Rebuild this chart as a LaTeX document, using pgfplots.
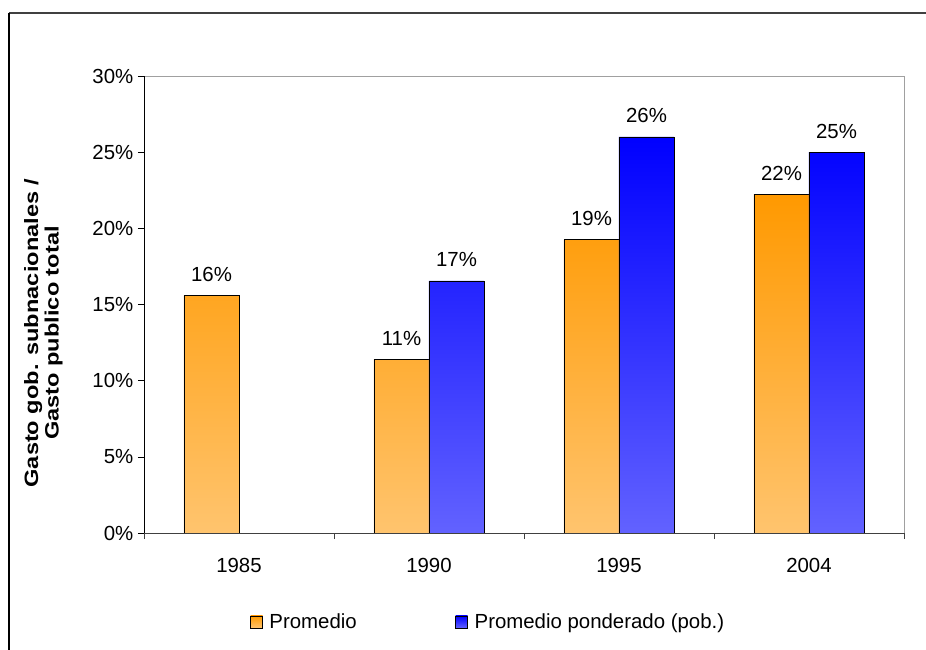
\documentclass[border=0pt]{standalone}
\usepackage{fontspec}
\setmainfont{Liberation Sans}
\usepackage{pgfplots}
\pgfplotsset{compat=1.18}
\definecolor{orTop}{RGB}{255,153,0}
\definecolor{orBot}{RGB}{255,196,110}
\definecolor{blTop}{RGB}{0,0,255}
\definecolor{blBot}{RGB}{98,98,255}
\definecolor{frameGray}{RGB}{160,160,160}
\definecolor{darkline}{RGB}{64,64,64}
\begin{document}
\begin{tikzpicture}
\begin{axis}[
  at={(0,0)}, anchor=south west,
  scale only axis,
  width=570pt, height=342.75pt,
  xmin=-0.5, xmax=3.5,
  ymin=0, ymax=30,
  xtick={0,1,2,3},
  xticklabels={1985,1990,1995,2004},
  x tick style={draw=none},
  extra x ticks={-0.5,0.5,1.5,2.5,3.5},
  extra x tick labels={},
  extra x tick style={x tick style={draw=darkline, thin}, major tick length=4.5pt, tick align=outside},
  ytick={0,5,10,15,20,25,30},
  yticklabels={0\%,5\%,10\%,15\%,20\%,25\%,30\%},
  tick align=outside,
  major tick length=4.5pt,
  xtick pos=bottom, ytick pos=left,
  y tick style={draw=black, thin},
  axis line style={draw=frameGray, thin},
  tick label style={font=\fontsize{15.3}{17}\selectfont},
  xticklabel style={yshift=-11pt},
  /pgf/number format/assume math mode=true,
  ylabel={\scalebox{1.22}[1]{\begin{tabular}{@{}c@{}}Gasto gob. subnacionales /\\[-1pt]Gasto publico total\end{tabular}}},
  ylabel style={font=\fontsize{14.5}{16.5}\selectfont\bfseries, at={(axis description cs:-0.1316,0.4376)}, anchor=center},
  ybar,
  bar width=41.25pt,
  nodes near coords={\pgfmathprintnumber[fixed,precision=0]{\pgfplotspointmeta}\%},
  every node near coord/.append style={font=\fontsize{15.3}{17}\selectfont, anchor=base, inner sep=0pt, yshift=10.5pt},
  legend columns=2,
  legend style={draw=none, fill=none, at={(axis description cs:0.1395,-0.1947)}, anchor=west,
    font=\fontsize{15.3}{17}\selectfont, inner sep=0pt,
    nodes={inner sep=0pt},
    /tikz/every odd column/.append style={column sep=5pt},
    /tikz/every even column/.append style={column sep=74pt}},
  legend image code/.code={\draw[#1, draw=black] (0pt,-4.5pt) rectangle (9pt,4.5pt);},
  clip=false,
]
\addplot[ybar, bar shift=-20.625pt, draw=black, thin, top color=orTop, bottom color=orBot]
  coordinates {(0,15.6) (1,11.4) (2,19.25) (3,22.25)};
\addlegendentry{Promedio}
\addplot[ybar, bar shift=20.625pt, draw=black, thin, top color=blTop, bottom color=blBot]
  coordinates {(1,16.55) (2,26.0) (3,25.0)};
\addlegendentry{Promedio ponderado (pob.)}
\draw[black, thin] (axis description cs:0,0) -- (axis description cs:0,1);
\draw[darkline, thin] (axis description cs:0,0) -- (axis description cs:1,0);
\end{axis}
\draw[darkline, line width=1.2pt] (-101.25pt,390pt) -- (586.5pt,390pt);
\draw[black, line width=1.2pt] (-101.25pt,390pt) -- (-101.25pt,-87.75pt);
\pgfresetboundingbox
\path[use as bounding box] (-108pt,-87.75pt) rectangle (586.5pt,399.75pt);
\end{tikzpicture}
\end{document}
